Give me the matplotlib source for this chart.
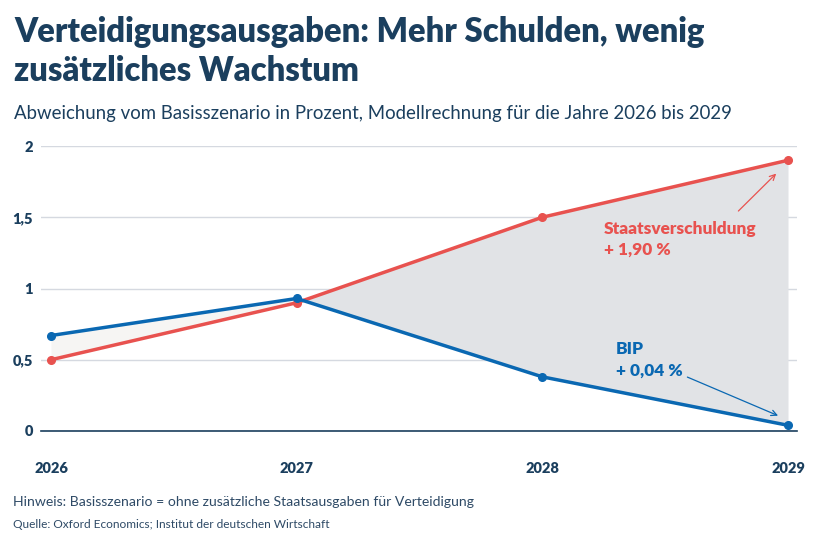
import matplotlib
matplotlib.use("Agg")
import matplotlib.pyplot as plt

# data
years = [2026, 2027, 2028, 2029]
bip = [0.67, 0.93, 0.38, 0.04]
schulden = [0.50, 0.90, 1.50, 1.90]
yticks = [0, 0.5, 1, 1.5, 2]
ylabels = ["0", "0,5", "1", "1,5", "2"]

navy = "#1b3f5e"
red = "#e8524f"
blue = "#0a68b2"
grid = "#d5d9e0"

plt.rcParams["font.family"] = ["Lato", "DejaVu Sans"]

fig = plt.figure(figsize=(8.21, 5.48), dpi=100)
ax = fig.add_axes([41 / 821, 117 / 548, 756 / 821, 285 / 548])

ax.fill_between(years, bip, schulden, where=[b >= s for b, s in zip(bip, schulden)],
                interpolate=True, color="#f6f5f3", lw=0)
ax.fill_between(years, bip, schulden, where=[b <= s for b, s in zip(bip, schulden)],
                interpolate=True, color="#e1e3e6", lw=0)

ax.plot(years, schulden, color=red, lw=2.5, marker="o", ms=5.5, clip_on=False, zorder=4)
ax.plot(years, bip, color=blue, lw=2.5, marker="o", ms=5.5, clip_on=False, zorder=5)

ax.set_xlim(2026 - 10 / 245.7, 2029 + 9 / 245.7)
ax.set_ylim(0, 2)
ax.set_yticks(yticks)
ax.set_yticklabels(ylabels)
ax.set_xticks(years)
ax.set_xticklabels([str(y) for y in years])
ax.grid(axis="y", color=grid, lw=1)
ax.set_axisbelow(True)
for s in ["top", "right", "left"]:
    ax.spines[s].set_visible(False)
ax.spines["bottom"].set_color(navy)
ax.spines["bottom"].set_linewidth(1.2)
ax.spines["bottom"].set_zorder(3)
ax.tick_params(axis="both", length=0, labelcolor=navy, labelsize=10.5)
ax.tick_params(axis="y", pad=6)
ax.tick_params(axis="x", pad=22)
for lab in ax.get_xticklabels() + ax.get_yticklabels():
    lab.set_fontweight("heavy")

# annotations
lab_kw = dict(fontsize=12.4, fontweight="heavy", va="center", ha="left")
ax.text(2028.25, 1.42, "Staatsverschuldung", color=red, **lab_kw)
ax.text(2028.25, 1.27, "+ 1,90 %", color=red, **lab_kw)
ax.annotate("", xy=(2028.96, 1.82), xytext=(2028.79, 1.53),
            arrowprops=dict(arrowstyle="->", color=red, lw=0.9))
ax.text(2028.3, 0.575, "BIP", color=blue, **lab_kw)
ax.text(2028.3, 0.42, "+ 0,04 %", color=blue, **lab_kw)
ax.annotate("", xy=(2028.97, 0.10), xytext=(2028.58, 0.386),
            arrowprops=dict(arrowstyle="->", color=blue, lw=0.9))

fig.text(14 / 821, 1 - 32 / 548, "Verteidigungsausgaben: Mehr Schulden, wenig",
         fontsize=23.6, fontweight="heavy", color=navy, va="center")
fig.text(14 / 821, 1 - 71 / 548, "zusätzliches Wachstum",
         fontsize=23.6, fontweight="heavy", color=navy, va="center")
fig.text(14 / 821, 1 - 113 / 548,
         "Abweichung vom Basisszenario in Prozent, Modellrechnung für die Jahre 2026 bis 2029",
         fontsize=13.4, color=navy, va="center")
fig.text(13 / 821, 1 - 502 / 548,
         "Hinweis: Basisszenario = ohne zusätzliche Staatsausgaben für Verteidigung",
         fontsize=10.1, color="#2e4a66", va="center")
fig.text(13 / 821, 1 - 524 / 548,
         "Quelle: Oxford Economics; Institut der deutschen Wirtschaft",
         fontsize=8.6, color="#2e4a66", va="center")

fig.savefig("out.png", dpi=100)
